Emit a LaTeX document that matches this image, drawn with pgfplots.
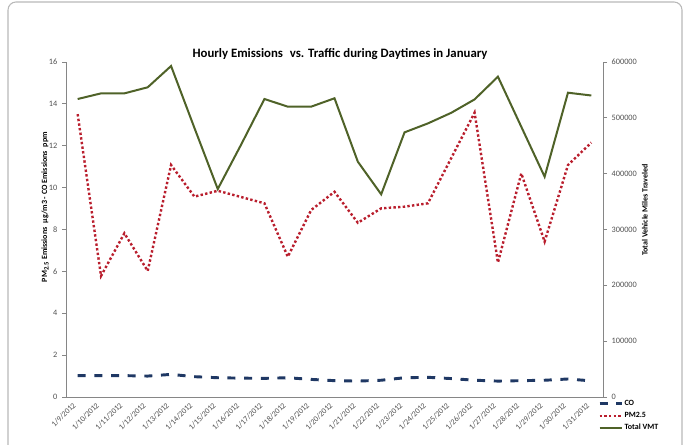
\documentclass[border=0pt]{standalone}
\usepackage{fontspec}
\setmainfont{Carlito}
\usepackage{pgfplots}
\pgfplotsset{compat=1.18}
\definecolor{vmt}{RGB}{79,98,40}
\definecolor{pm}{RGB}{185,30,45}
\definecolor{co}{RGB}{31,56,100}
\definecolor{axg}{RGB}{134,134,134}
\definecolor{tickg}{RGB}{80,80,80}
\pgfplotsset{
  myax/.style={
    scale only axis, width=402.75pt, height=251.25pt,
    at={(49.5pt,36pt)}, anchor=south west,
    xmin=-0.5, xmax=22.5,
    tick align=outside,
    major tick length=3pt,
    axis line style={axg, line width=0.6pt},
    every tick/.style={axg, line width=0.6pt},
    tick label style={font=\fontsize{6.2}{7}\selectfont, text=tickg},
    /pgf/number format/assume math mode=true,
    clip=false,
  },
  costyle/.style={co, line width=2.2pt, dash pattern=on 6pt off 6.5pt},
  pmstyle/.style={pm, line width=1.8pt, dash pattern=on 1.8pt off 1.7pt},
  vmtstyle/.style={vmt, line width=1.5pt},
}
\begin{document}
\begin{tikzpicture}
\useasboundingbox (0,0) rectangle (514.5pt,333.75pt);
\draw[gray!55, line width=0.8pt, rounded corners=6pt] (6pt,0pt) -- (6pt,332.25pt) -- (511.5pt,332.25pt) -- (511.5pt,0pt);
\begin{axis}[myax,
  axis x line*=bottom, axis y line*=left,
  ymin=0, ymax=16, ytick={0,2,...,16},
  xtick={0,...,22}, xtick style={draw=none},
  minor xtick={-0.5,0.5,...,22.5},
  minor tick length=3pt,
  every minor tick/.style={axg, line width=0.6pt},
  xticklabels={1/9/2012,1/10/2012,1/11/2012,1/12/2012,1/13/2012,1/14/2012,1/15/2012,1/16/2012,1/17/2012,1/18/2012,1/19/2012,1/20/2012,1/21/2012,1/22/2012,1/23/2012,1/24/2012,1/25/2012,1/26/2012,1/27/2012,1/28/2012,1/29/2012,1/30/2012,1/31/2012},
  x tick label style={rotate=45, anchor=east, font=\fontsize{6}{7}\selectfont, text=tickg},
  ylabel={PM\textsubscript{2.5} Emissions\hspace{0.25em} µg/m3 - CO Emissions\hspace{0.25em} ppm},
  every axis y label/.style={at={(axis description cs:-0.039,0.567)}, rotate=90, anchor=center, font=\bfseries\fontsize{6}{7}\selectfont},
]
\addplot[costyle] coordinates {(0,1.02)(1,1.02)(2,1.02)(3,1.00)(4,1.08)(5,0.97)(6,0.92)(7,0.90)(8,0.89)(9,0.92)(10,0.84)(11,0.78)(12,0.76)(13,0.80)(14,0.92)(15,0.94)(16,0.88)(17,0.80)(18,0.76)(19,0.78)(20,0.80)(21,0.86)(22,0.77)};
\addplot[pmstyle] coordinates {(0,13.51)(1,5.78)(2,7.82)(3,6.02)(4,11.08)(5,9.57)(6,9.85)(7,9.55)(8,9.25)(9,6.70)(10,8.93)(11,9.80)(12,8.32)(13,9.01)(14,9.09)(15,9.25)(16,11.41)(17,13.58)(18,6.42)(19,10.68)(20,7.42)(21,11.08)(22,12.15)};
\end{axis}
\begin{axis}[myax,
  axis x line=none, axis y line*=right,
  ymin=0, ymax=600000, ytick={0,100000,...,600000},
  scaled y ticks=false,
  yticklabel style={/pgf/number format/.cd, fixed, 1000 sep={}},
  ylabel={Total Vehicle Miles Traveled},
  every axis y label/.style={at={(axis description cs:1.078,0.558)}, rotate=90, anchor=center, font=\bfseries\fontsize{6}{7}\selectfont},
  legend image code/.code={\draw[#1] (0pt,0pt) -- (16.5pt,0pt);},
  legend cell align=left,
  legend style={at={(axis description cs:0.9907,-0.005)}, anchor=north west, draw=none, fill=none, inner sep=0pt, row sep=1.5pt,
    font=\bfseries\fontsize{6}{7}\selectfont, nodes={inner sep=1pt}},
]
\addlegendimage{costyle}\addlegendentry{CO}
\addlegendimage{pmstyle}\addlegendentry{PM2.5}
\addplot[vmtstyle] coordinates {(0,533700)(1,543800)(2,543800)(3,554700)(4,592800)(5,482000)(6,372500)(7,452000)(8,533700)(9,520000)(10,520000)(11,535000)(12,421400)(13,363000)(14,474000)(15,490000)(16,509000)(17,533000)(18,573700)(19,484000)(20,394500)(21,545000)(22,540000)};
\addlegendentry{Total VMT}
\end{axis}
\node[font=\bfseries\fontsize{9.6}{11}\selectfont] at (255pt,293.5pt) {Hourly Emissions\hspace{0.3em} vs. Traffic during Daytimes in January};
\end{tikzpicture}
\end{document}
